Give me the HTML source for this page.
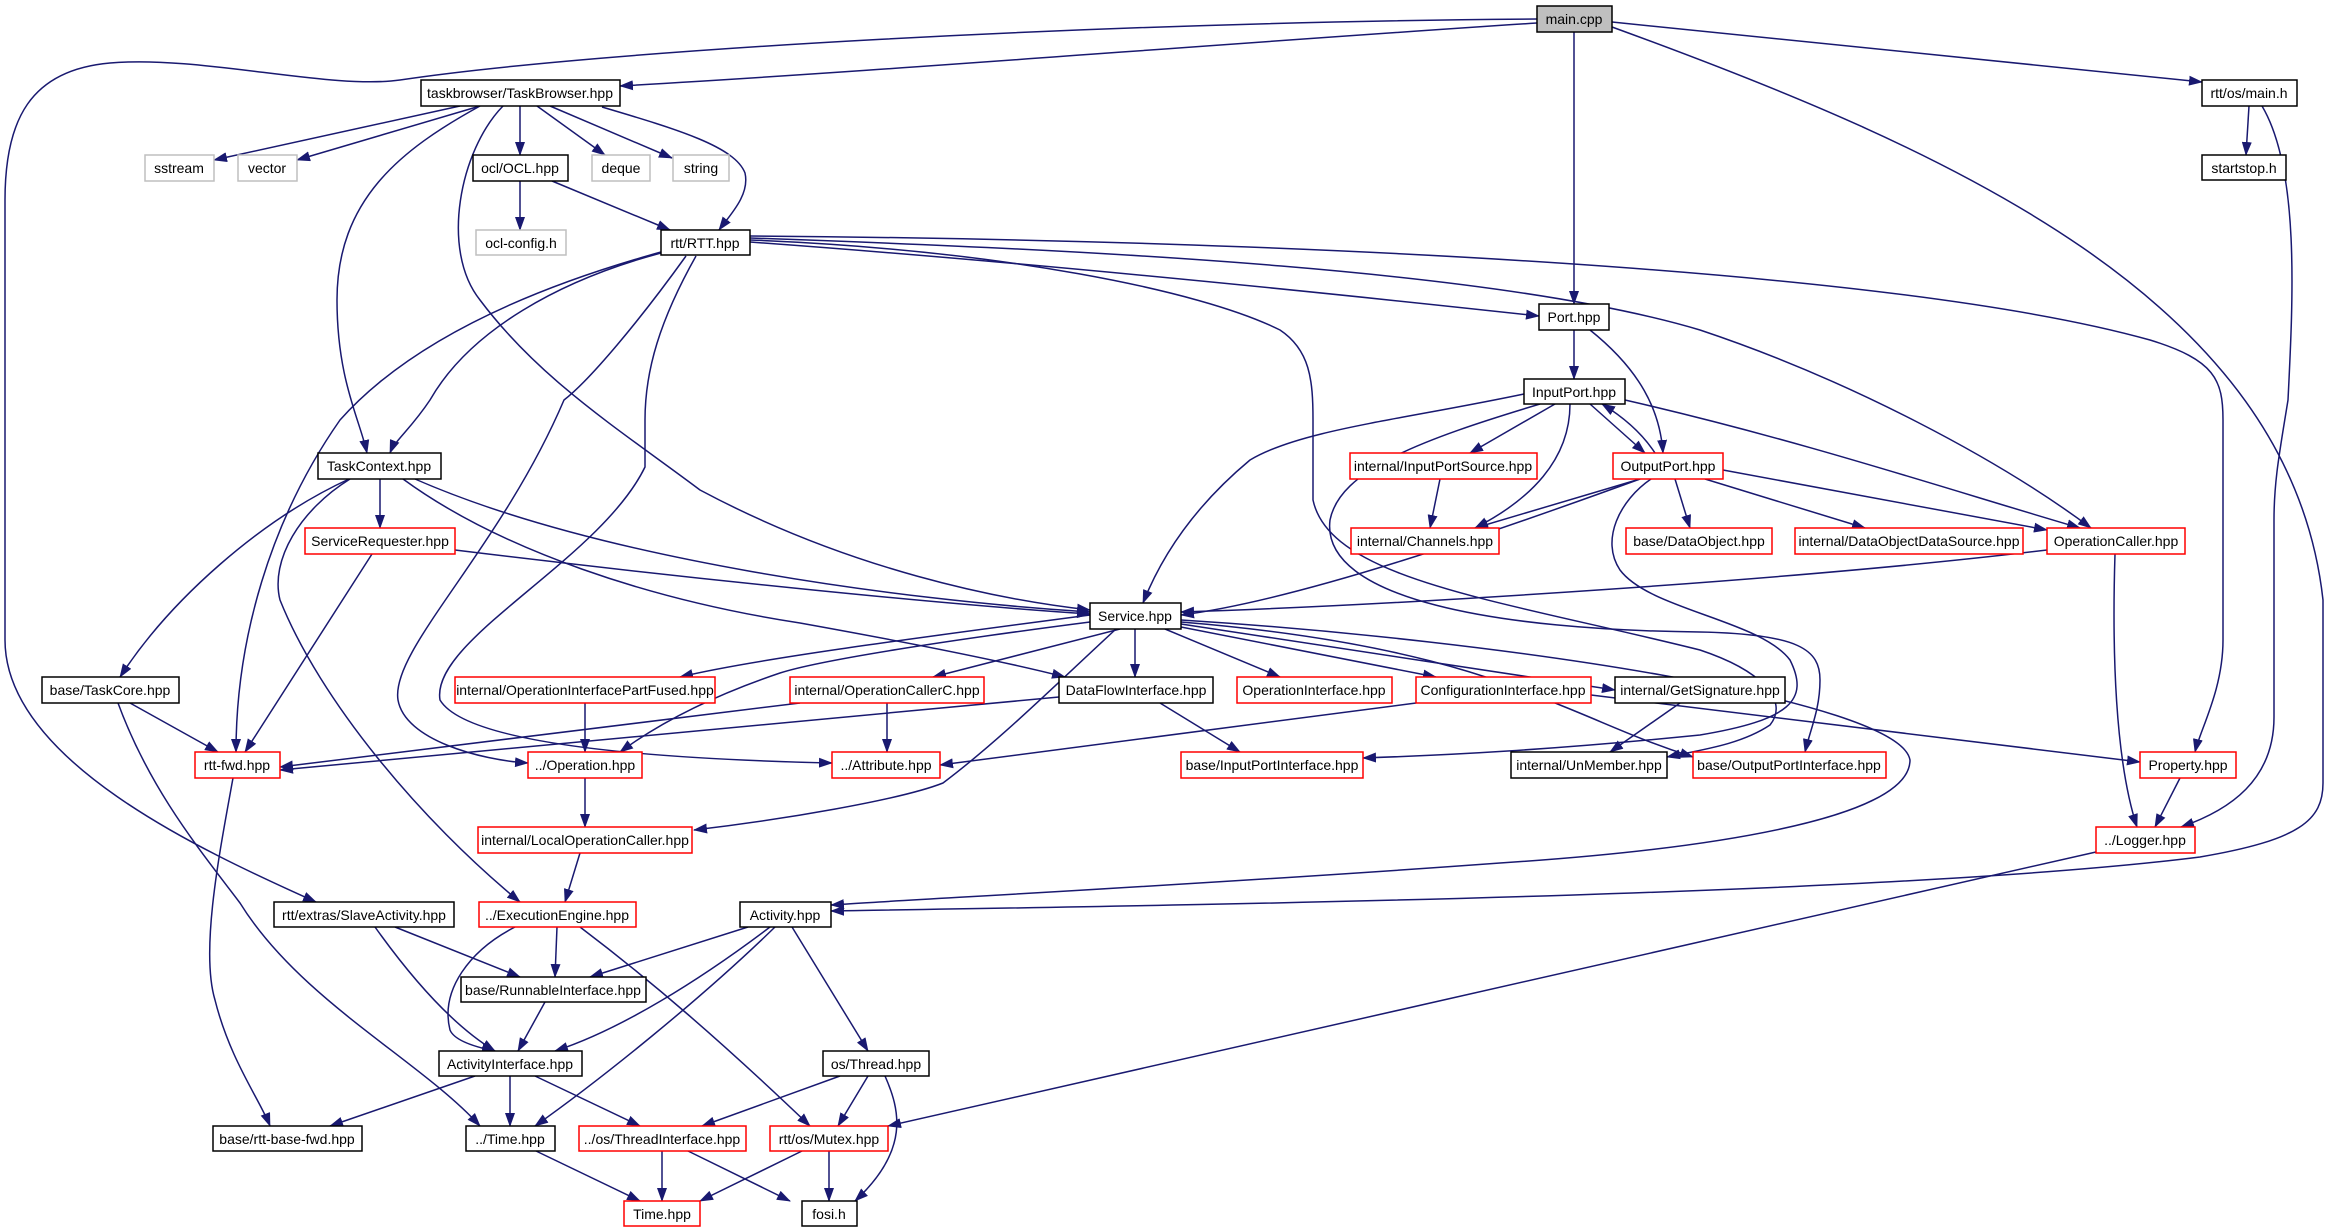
<!DOCTYPE html>
<html><head><meta charset="utf-8"><style>
html,body{margin:0;padding:0;background:#fff;}
svg{display:block;}
text{font-family:"Liberation Sans",sans-serif;font-size:14px;text-anchor:middle;fill:#000;}
.n{fill:#fff;stroke:#000;stroke-width:1.5;}
.r{fill:#fff;stroke:#ff0000;stroke-width:1.5;}
.g{fill:#fff;stroke:#bfbfbf;stroke-width:1.5;}
.e{fill:none;stroke:#191970;stroke-width:1.5;}
</style></head><body>
<svg width="2329" height="1232" viewBox="0 0 2329 1232" xmlns="http://www.w3.org/2000/svg">
<defs><marker id="a" markerWidth="14" markerHeight="10" refX="13" refY="5" orient="auto" markerUnits="userSpaceOnUse"><path d="M0,0 L14,5 L0,10 z" fill="#191970"/></marker></defs>
<g class="e" marker-end="url(#a)">
<path d="M1537,23 C1200,45 900,70 620,86"/>
<path d="M1537,19 C1100,22 600,50 400,80 C330,90 200,55 110,63 C30,70 5,120 5,200 L5,640 C5,760 200,850 316,902"/>
<path d="M1574,32 L1574,304"/>
<path d="M1612,22 L2202,82"/>
<path d="M1612,27 C1950,150 2290,300 2323,600 L2323,783 C2323,820 2300,840 2200,857 C1900,895 1200,905 831,911"/>
<path d="M2249,106 L2246,155"/>
<path d="M2262,106 C2300,170 2293,300 2288,400 C2280,450 2274,480 2274,520 L2274,717 C2274,780 2230,810 2181,827"/>
<path d="M460,106 L214,160"/>
<path d="M480,106 L297,160"/>
<path d="M520,106 L520,155"/>
<path d="M537,106 L605,155"/>
<path d="M550,106 L672,158"/>
<path d="M602,107 C680,130 735,147 745,173 C750,195 730,215 719,230"/>
<path d="M520,181 L520,230"/>
<path d="M552,181 L670,230"/>
<path d="M480,106 C400,150 337,200 337,300 C337,380 360,420 367,453"/>
<path d="M503,106 C460,150 440,250 480,300 C540,380 620,430 700,490 C850,570 1000,600 1090,610"/>
<path d="M661,252 C560,280 420,330 340,420 C270,520 236,640 236,752"/>
<path d="M661,253 C560,280 470,330 430,400 C410,430 395,440 390,453"/>
<path d="M686,256 C640,320 590,380 564,400 C500,550 390,650 398,700 C405,740 480,760 528,763"/>
<path d="M696,256 C660,320 645,370 645,420 L645,467 C600,560 430,640 440,700 C470,750 700,760 832,763"/>
<path d="M750,242 C1000,260 1300,290 1539,316"/>
<path d="M750,238 C1100,250 1500,270 1700,330 C1850,380 2000,460 2091,528"/>
<path d="M750,236 C1300,240 1900,270 2150,340 C2215,360 2223,380 2223,420 L2223,640 C2223,690 2200,730 2195,752"/>
<path d="M750,240 C1000,250 1200,290 1280,330 C1310,350 1313,380 1313,420 L1313,500 C1330,580 1500,600 1700,650 C1760,670 1790,700 1770,725 C1740,745 1700,750 1667,757"/>
<path d="M1574,330 L1574,379"/>
<path d="M1590,330 C1640,370 1660,410 1663,453"/>
<path d="M1590,404 L1645,453"/>
<path d="M1655,453 C1640,430 1620,415 1602,404"/>
<path d="M1555,404 L1470,453"/>
<path d="M1570,404 C1570,460 1530,500 1475,528"/>
<path d="M1524,394 C1400,420 1300,430 1250,460 C1190,510 1160,560 1143,603"/>
<path d="M1625,400 C1800,440 1950,490 2080,528"/>
<path d="M1540,404 C1420,440 1340,470 1330,520 C1320,600 1500,630 1700,632 C1800,634 1820,650 1820,680 C1820,710 1810,730 1805,752"/>
<path d="M1651,479 C1620,500 1600,540 1620,570 C1650,610 1760,620 1790,660 C1810,700 1790,720 1700,735 C1550,750 1450,755 1363,758"/>
<path d="M1440,479 L1430,528"/>
<path d="M1640,479 C1500,530 1300,600 1181,615"/>
<path d="M1640,479 L1475,528"/>
<path d="M1675,479 L1690,528"/>
<path d="M1705,479 L1865,528"/>
<path d="M1723,470 L2047,530"/>
<path d="M2047,550 C1800,580 1400,605 1181,612"/>
<path d="M2115,554 C2112,650 2115,760 2137,827"/>
<path d="M2180,778 L2155,827"/>
<path d="M349,479 C260,520 170,600 120,677"/>
<path d="M380,479 L380,528"/>
<path d="M415,479 C600,560 900,600 1090,612"/>
<path d="M403,479 C500,550 650,600 800,623 C950,650 1030,668 1065,677"/>
<path d="M350,479 C300,510 270,560 280,600 C320,700 420,820 520,902"/>
<path d="M455,550 C700,580 950,605 1090,614"/>
<path d="M372,554 L245,752"/>
<path d="M130,703 L218,752"/>
<path d="M118,703 C150,790 200,850 240,903 C300,1000 420,1060 480,1126"/>
<path d="M233,778 C220,850 200,950 215,1000 C230,1060 260,1100 270,1126"/>
<path d="M1090,615 C900,640 750,660 680,677"/>
<path d="M1120,629 L933,677"/>
<path d="M1135,629 L1135,677"/>
<path d="M1165,629 L1280,677"/>
<path d="M1181,627 L1436,677"/>
<path d="M1181,624 L1615,690"/>
<path d="M1090,622 C950,640 820,660 780,673 C700,700 650,730 620,752"/>
<path d="M1116,629 C1050,690 1000,740 943,783 C900,800 780,820 694,830"/>
<path d="M1181,620 C1500,640 1900,700 1910,760 C1910,820 1700,850 1500,863 C1200,885 900,900 831,905"/>
<path d="M1181,622 C1400,640 1500,680 1560,705 C1610,725 1640,740 1693,757"/>
<path d="M800,703 L280,767"/>
<path d="M887,703 L887,752"/>
<path d="M1059,697 L280,770"/>
<path d="M1160,703 L1240,752"/>
<path d="M1591,695 L2140,762"/>
<path d="M585,703 L585,752"/>
<path d="M585,778 L585,827"/>
<path d="M1416,703 L940,765"/>
<path d="M1680,703 L1610,752"/>
<path d="M580,853 L565,902"/>
<path d="M557,927 L555,977"/>
<path d="M515,927 C470,950 440,990 450,1030 C455,1042 480,1048 495,1051"/>
<path d="M580,927 C650,980 720,1040 810,1126"/>
<path d="M395,927 L520,977"/>
<path d="M375,927 C420,990 460,1030 495,1051"/>
<path d="M748,927 L590,977"/>
<path d="M770,927 C700,980 620,1030 555,1051"/>
<path d="M775,927 C700,1000 600,1080 535,1126"/>
<path d="M792,927 L868,1051"/>
<path d="M545,1002 L518,1051"/>
<path d="M475,1076 L330,1126"/>
<path d="M510,1076 L510,1126"/>
<path d="M535,1076 L640,1126"/>
<path d="M840,1076 L702,1126"/>
<path d="M868,1076 L838,1126"/>
<path d="M885,1076 C900,1110 910,1150 855,1201"/>
<path d="M536,1151 L640,1201"/>
<path d="M662,1151 L662,1201"/>
<path d="M688,1151 L790,1201"/>
<path d="M802,1151 L700,1201"/>
<path d="M829,1151 L829,1201"/>
<path d="M2096,852 L888,1126"/>
</g>
<g>
<rect x="1537" y="6" width="75" height="26" style="fill:#bfbfbf;stroke:#000;stroke-width:1.5"/><text x="1574" y="24">main.cpp</text>
<rect class="n" x="2202" y="80" width="95" height="26"/><text x="2249" y="98">rtt/os/main.h</text>
<rect class="n" x="2202" y="155" width="84" height="25"/><text x="2244" y="173">startstop.h</text>
<rect class="n" x="421" y="80" width="199" height="26"/><text x="520" y="98">taskbrowser/TaskBrowser.hpp</text>
<rect class="g" x="145" y="155" width="69" height="26"/><text x="179" y="173">sstream</text>
<rect class="g" x="238" y="155" width="59" height="26"/><text x="267" y="173">vector</text>
<rect class="n" x="473" y="155" width="95" height="26"/><text x="520" y="173">ocl/OCL.hpp</text>
<rect class="g" x="592" y="155" width="58" height="26"/><text x="621" y="173">deque</text>
<rect class="g" x="673" y="155" width="56" height="26"/><text x="701" y="173">string</text>
<rect class="g" x="476" y="230" width="90" height="25"/><text x="521" y="248">ocl-config.h</text>
<rect class="n" x="661" y="230" width="89" height="25"/><text x="705" y="248">rtt/RTT.hpp</text>
<rect class="n" x="1539" y="304" width="70" height="26"/><text x="1574" y="322">Port.hpp</text>
<rect class="n" x="1524" y="379" width="101" height="25"/><text x="1574" y="397">InputPort.hpp</text>
<rect class="n" x="318" y="453" width="123" height="26"/><text x="379" y="471">TaskContext.hpp</text>
<rect class="r" x="1350" y="453" width="187" height="26"/><text x="1443" y="471">internal/InputPortSource.hpp</text>
<rect class="r" x="1613" y="453" width="110" height="26"/><text x="1668" y="471">OutputPort.hpp</text>
<rect class="r" x="305" y="528" width="150" height="26"/><text x="380" y="546">ServiceRequester.hpp</text>
<rect class="r" x="1351" y="528" width="148" height="26"/><text x="1425" y="546">internal/Channels.hpp</text>
<rect class="r" x="1626" y="528" width="146" height="26"/><text x="1699" y="546">base/DataObject.hpp</text>
<rect class="r" x="1795" y="528" width="228" height="26"/><text x="1909" y="546">internal/DataObjectDataSource.hpp</text>
<rect class="r" x="2047" y="528" width="138" height="26"/><text x="2116" y="546">OperationCaller.hpp</text>
<rect class="n" x="1090" y="603" width="91" height="26"/><text x="1135" y="621">Service.hpp</text>
<rect class="n" x="42" y="677" width="137" height="26"/><text x="110" y="695">base/TaskCore.hpp</text>
<rect class="r" x="455" y="677" width="260" height="26"/><text x="585" y="695">internal/OperationInterfacePartFused.hpp</text>
<rect class="r" x="790" y="677" width="194" height="26"/><text x="887" y="695">internal/OperationCallerC.hpp</text>
<rect class="n" x="1059" y="677" width="154" height="26"/><text x="1136" y="695">DataFlowInterface.hpp</text>
<rect class="r" x="1237" y="677" width="155" height="26"/><text x="1314" y="695">OperationInterface.hpp</text>
<rect class="r" x="1416" y="677" width="175" height="26"/><text x="1503" y="695">ConfigurationInterface.hpp</text>
<rect class="n" x="1615" y="677" width="170" height="26"/><text x="1700" y="695">internal/GetSignature.hpp</text>
<rect class="r" x="195" y="752" width="85" height="26"/><text x="237" y="770">rtt-fwd.hpp</text>
<rect class="r" x="528" y="752" width="114" height="26"/><text x="585" y="770">../Operation.hpp</text>
<rect class="r" x="832" y="752" width="108" height="26"/><text x="886" y="770">../Attribute.hpp</text>
<rect class="r" x="1181" y="752" width="182" height="26"/><text x="1272" y="770">base/InputPortInterface.hpp</text>
<rect class="n" x="1511" y="752" width="156" height="26"/><text x="1589" y="770">internal/UnMember.hpp</text>
<rect class="r" x="1693" y="752" width="193" height="26"/><text x="1789" y="770">base/OutputPortInterface.hpp</text>
<rect class="r" x="2140" y="752" width="96" height="26"/><text x="2188" y="770">Property.hpp</text>
<rect class="r" x="478" y="827" width="214" height="26"/><text x="585" y="845">internal/LocalOperationCaller.hpp</text>
<rect class="r" x="2096" y="827" width="99" height="26"/><text x="2145" y="845">../Logger.hpp</text>
<rect class="n" x="274" y="902" width="180" height="25"/><text x="364" y="920">rtt/extras/SlaveActivity.hpp</text>
<rect class="r" x="479" y="902" width="157" height="25"/><text x="557" y="920">../ExecutionEngine.hpp</text>
<rect class="n" x="740" y="902" width="91" height="25"/><text x="785" y="920">Activity.hpp</text>
<rect class="n" x="461" y="977" width="185" height="25"/><text x="553" y="995">base/RunnableInterface.hpp</text>
<rect class="n" x="439" y="1051" width="143" height="25"/><text x="510" y="1069">ActivityInterface.hpp</text>
<rect class="n" x="823" y="1051" width="106" height="25"/><text x="876" y="1069">os/Thread.hpp</text>
<rect class="n" x="213" y="1126" width="149" height="25"/><text x="287" y="1144">base/rtt-base-fwd.hpp</text>
<rect class="n" x="466" y="1126" width="89" height="25"/><text x="510" y="1144">../Time.hpp</text>
<rect class="r" x="579" y="1126" width="167" height="25"/><text x="662" y="1144">../os/ThreadInterface.hpp</text>
<rect class="r" x="770" y="1126" width="118" height="25"/><text x="829" y="1144">rtt/os/Mutex.hpp</text>
<rect class="r" x="624" y="1201" width="76" height="25"/><text x="662" y="1219">Time.hpp</text>
<rect class="n" x="802" y="1201" width="55" height="25"/><text x="829" y="1219">fosi.h</text>
</g>
</svg>
</body></html>
